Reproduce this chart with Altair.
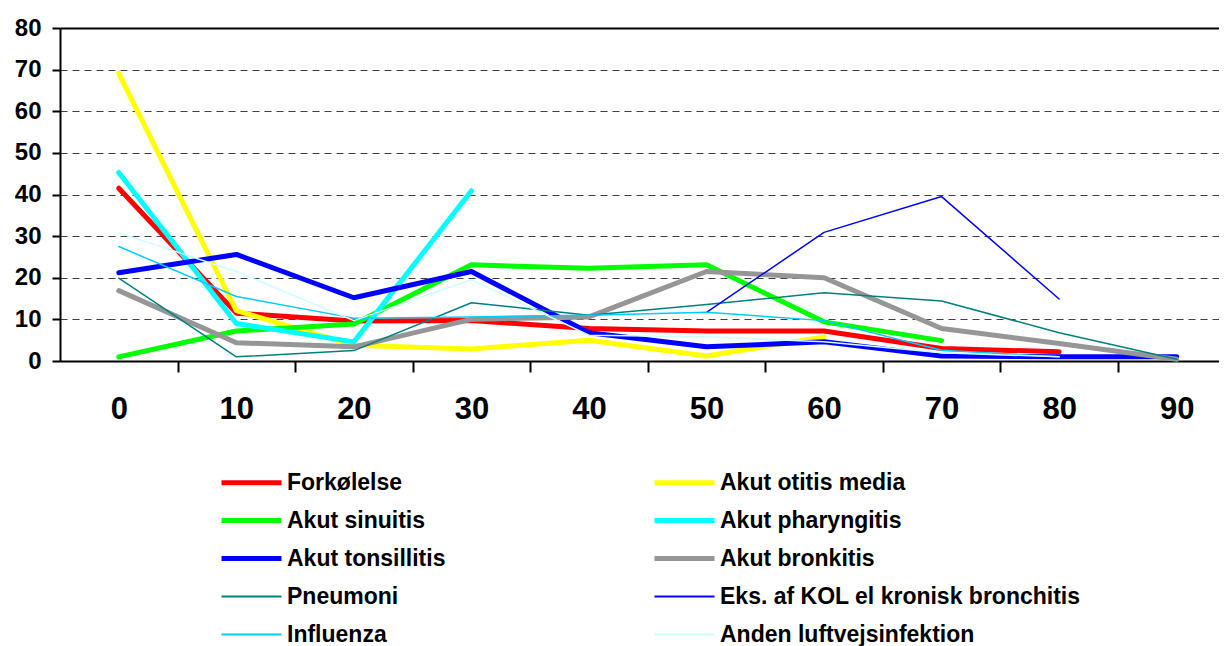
import altair as alt
import pandas as pd

ages = [0, 10, 20, 30, 40, 50, 60, 70, 80, 90]

series_names = [
    "Forkølelse",
    "Akut otitis media",
    "Akut sinuitis",
    "Akut pharyngitis",
    "Akut tonsillitis",
    "Akut bronkitis",
    "Pneumoni",
    "Eks. af KOL el kronisk bronchitis",
    "Influenza",
    "Anden luftvejsinfektion",
]

forkolelse = [41.5, 11.5, 9.6, 9.7, 7.8, 7.2, 7.2, 3.0, 2.2, None]
otitis = [69.1, 12.1, 3.8, 2.9, 5.0, 1.2, 5.8, None, None, None]
sinuitis = [1.0, 7.2, 8.9, 23.1, 22.3, 23.1, 9.4, 4.9, None, None]
pharyngitis = [45.3, 9.0, 4.6, 40.9, None, None, None, None, None, None]
tonsillitis = [21.2, 25.6, 15.2, 21.5, 6.8, 3.4, 4.6, 1.2, 1.0, 1.0]
bronkitis = [16.9, 4.4, 3.4, 10.0, 10.6, 21.5, 20.0, 7.8, 4.2, 0.4]
pneumoni = [19.9, 1.0, 2.5, 14.0, 11.0, 13.6, 16.4, 14.4, 6.8, 0.4]
kol = [None, None, None, None, None, 11.7, 30.9, 39.5, 14.9, None]
influenza = [27.5, 15.5, 10.3, 10.6, 11.0, 11.7, 9.7, 2.6, 1.0, None]
anden = [30.8, 21.5, 9.7, 19.5, 6.2, 5.8, 4.6, 2.0, 1.0, None]

series_values = [forkolelse, otitis, sinuitis, pharyngitis, tonsillitis,
                 bronkitis, pneumoni, kol, influenza, anden]

colors = ["#FF0000", "#FFFF00", "#00FF00", "#00FFFF", "#0000FF",
          "#969696", "#008080", "#0000FF", "#00CCFF", "#CCFFFF"]
widths = [5, 5, 5, 5, 5, 5, 1.5, 1.5, 1.5, 1.5]
thin_series = [n for n, w in zip(series_names, widths) if w < 3]

rows = []
for i, (name, vals) in enumerate(zip(series_names, series_values)):
    for a, v in zip(ages, vals):
        if v is not None:
            rows.append({"series": name, "age": a, "value": v, "idx": i, "w": widths[i]})
df = pd.DataFrame(rows)

FONT = "Liberation Sans"

thin_list = "[" + ",".join("'" + n + "'" for n in thin_series) + "]"

legend = alt.Legend(
    title=None,
    orient="none",
    direction="horizontal",
    legendX=180,
    legendY=443,
    columns=2,
    columnPadding=198,
    rowPadding=14,
    symbolType="M-3,0H3",
    symbolSize=400,
    symbolStrokeWidth={"expr": "indexof(" + thin_list + ", datum.value) >= 0 ? 2 : 5"},
    labelOffset=24,
    labelFont=FONT,
    labelFontSize=23,
    labelFontWeight="bold",
    labelColor="black",
    labelLimit=600,
    padding=0,
)

chart = alt.Chart(df).mark_line(strokeCap="round", strokeJoin="round").encode(
    x=alt.X(
        "age:Q",
        scale=alt.Scale(domain=[-5, 93.6], nice=False, zero=False),
        axis=alt.Axis(
            title=None,
            values=list(range(0, 95, 5)),
            labelExpr="datum.value % 10 === 0 ? datum.label : ''",
            tickOpacity={"condition": {"test": "datum.value % 10 === 0", "value": 0}, "value": 1},
            tickSize=11,
            tickWidth=2,
            tickColor="black",
            domainColor="black",
            domainWidth=2,
            labelFont=FONT,
            labelFontSize=31,
            labelFontWeight="bold",
            labelColor="black",
            labelPadding=22,
            grid=False,
        ),
    ),
    y=alt.Y(
        "value:Q",
        scale=alt.Scale(domain=[0, 80], nice=False),
        axis=alt.Axis(
            title=None,
            values=list(range(0, 90, 10)),
            tickSize=8,
            tickWidth=2,
            tickColor="black",
            domainColor="black",
            domainWidth=2,
            labelFont=FONT,
            labelFontSize=24,
            labelFontWeight="bold",
            labelColor="black",
            labelPadding=11,
            grid=True,
            gridColor={"condition": {"test": "datum.value === 80", "value": "black"}, "value": "#404040"},
            gridDash={"condition": {"test": "datum.value === 80", "value": []}, "value": [7, 5]},
            gridWidth={"condition": {"test": "datum.value === 80", "value": 2}, "value": 1},
        ),
    ),
    color=alt.Color("series:N", scale=alt.Scale(domain=series_names, range=colors), legend=legend),
    strokeWidth=alt.StrokeWidth("w:Q", scale=None, legend=None),
    detail="idx:O",
).properties(
    width=1159,
    height=333,
    padding={"left": 6, "top": 8, "right": 0, "bottom": 0},
).configure_view(stroke=None)

chart.save("out.html", embed_options={"renderer": "svg", "actions": False})
